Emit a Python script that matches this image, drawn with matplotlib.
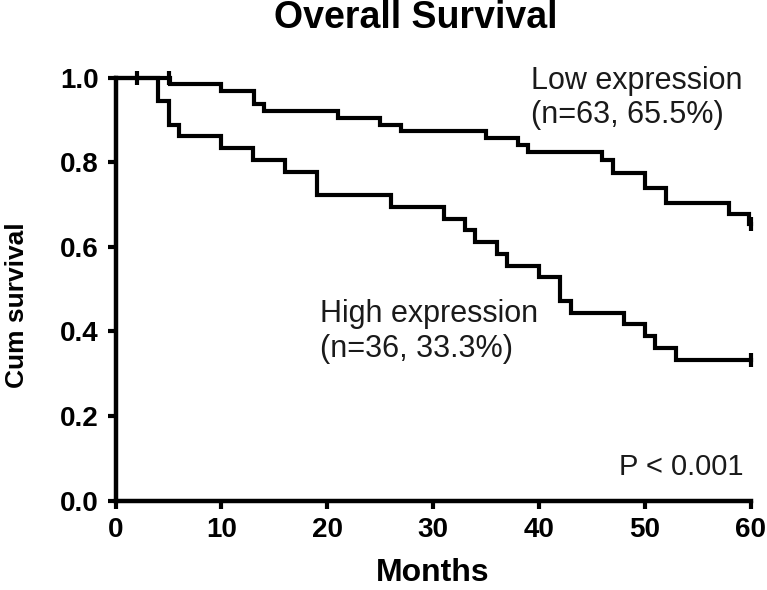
import numpy as np
import matplotlib
matplotlib.use("Agg")
from matplotlib import pyplot as plt

# Kaplan-Meier steps
low_t = [0, 5.1, 10, 13.1, 14, 21, 25, 27, 35, 38, 39, 46, 47, 50, 52, 58, 59.9]
low_s = [1.0, 0.984, 0.968, 0.937, 0.921, 0.905, 0.889, 0.873, 0.857, 0.841,
         0.825, 0.806, 0.774, 0.740, 0.704, 0.677, 0.655]
low_cens = [2, 5, 60]

high_t = [0, 4, 5, 6, 10, 13, 16, 19, 26, 31, 33, 34, 36, 37, 40, 42, 43, 48, 50, 51, 53]
high_s = [1.0, 0.944, 0.889, 0.861, 0.833, 0.806, 0.778, 0.722, 0.694, 0.667, 0.639,
          0.611, 0.583, 0.556, 0.528, 0.472, 0.444, 0.417, 0.389, 0.361, 0.333]
high_cens = [60]

x_max = 60
xticks = [0, 10, 20, 30, 40, 50, 60]
yticks = [0.0, 0.2, 0.4, 0.6, 0.8, 1.0]

plt.rcParams['font.family'] = ['Liberation Sans', 'DejaVu Sans']
txt_col = '#1a1a1a'

fig = plt.figure(figsize=(7.67, 5.90), dpi=100)
ax = fig.add_axes([0.1508, 0.1514, 0.8277, 0.7169])


def surv_at(t, s, x):
    idx = np.searchsorted(t, x, side='right') - 1
    return np.asarray(s)[idx]


for t, s, cens in [(low_t, low_s, low_cens), (high_t, high_s, high_cens)]:
    tt = np.append(t, x_max)
    ss = np.append(s, s[-1])
    ax.step(tt, ss, where='post', color='black', lw=3, clip_on=False,
            solid_joinstyle='miter')
    cy = [surv_at(t, s, c) for c in cens]
    ax.plot(cens, cy, ls='none', marker='|', ms=10, mew=3, color='black',
            clip_on=False)

ax.set_xlim(0, x_max)
ax.set_ylim(0, 1.0)
ax.set_xticks(xticks)
ax.set_yticks(yticks)
ax.set_xticklabels([str(v) for v in xticks])
ax.set_yticklabels([f"{v:.1f}" for v in yticks])

for side in ['top', 'right']:
    ax.spines[side].set_visible(False)
for side in ['left', 'bottom']:
    ax.spines[side].set_linewidth(3.2)
ax.tick_params(direction='out', length=6, width=3, pad=6, labelsize=20,
               colors='black')
for lab in ax.get_xticklabels() + ax.get_yticklabels():
    lab.set_fontweight('bold')

ax.set_xlabel("Months", fontsize=23, fontweight='bold', va='top')
ax.xaxis.set_label_coords(0.5, -0.135)
ax.set_ylabel("Cum survival", fontsize=19, fontweight='bold')
ax.yaxis.set_label_coords(-0.136, 0.463)

fig.text(416 / 767, 1 - 28.5 / 590, "Overall Survival", fontsize=27,
         fontweight='bold', ha='center', va='baseline')

ax.text(39.3, 0.952, "Low expression\n(n=63, 65.5%)", fontsize=22,
        color=txt_col, ha='left', va='center', linespacing=1.2)
ax.text(19.3, 0.400, "High expression\n(n=36, 33.3%)", fontsize=22,
        color=txt_col, ha='left', va='center', linespacing=1.2)
ax.text(59.3, 0.08, "P < 0.001", fontsize=21, color=txt_col,
        ha='right', va='center')

fig.savefig("out.png", dpi=100)
